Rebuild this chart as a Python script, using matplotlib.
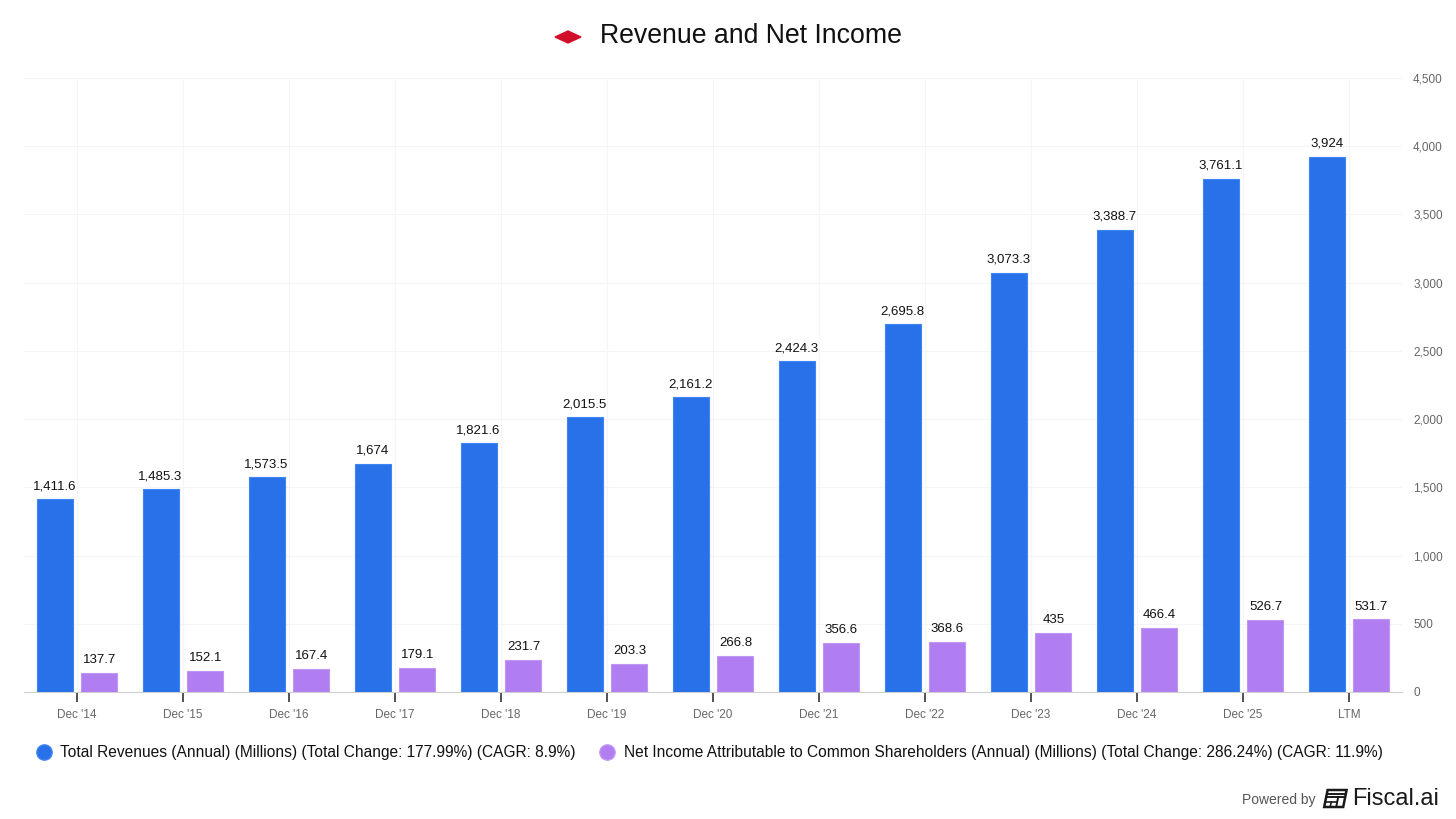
import matplotlib.pyplot as plt
from matplotlib.lines import Line2D
from matplotlib.patches import Polygon

plt.rcParams['font.family'] = ['Liberation Sans', 'DejaVu Sans']

periods = ["Dec '14", "Dec '15", "Dec '16", "Dec '17", "Dec '18", "Dec '19", "Dec '20",
           "Dec '21", "Dec '22", "Dec '23", "Dec '24", "Dec '25", "LTM"]
revenue = [1411.6, 1485.3, 1573.5, 1674, 1821.6, 2015.5, 2161.2, 2424.3, 2695.8,
           3073.3, 3388.7, 3761.1, 3924]
net_income = [137.7, 152.1, 167.4, 179.1, 231.7, 203.3, 266.8, 356.6, 368.6,
              435, 466.4, 526.7, 531.7]
y_ticks = [0, 500, 1000, 1500, 2000, 2500, 3000, 3500, 4000, 4500]

rev_label = "Total Revenues (Annual) (Millions) (Total Change: 177.99%) (CAGR: 8.9%)"
ni_label = ("Net Income Attributable to Common Shareholders (Annual) (Millions) "
            "(Total Change: 286.24%) (CAGR: 11.9%)")

BLUE = '#2971e8'
BLUE_EDGE = '#3d84f5'
PURPLE = '#b07ef0'
PURPLE_EDGE = '#bf95f5'
W, H = 1456, 819


def fmt(v):
	if float(v).is_integer():
		return f'{int(v):,}'
	return f'{v:,.1f}'


def px(xp, yp):
	# pixel coords (from top-left) -> figure fraction
	return (xp / W, 1 - yp / H)


fig = plt.figure(figsize=(W / 100, H / 100), dpi=100)
ax = fig.add_axes([24 / W, 1 - 692 / H, (1402 - 24) / W, (692 - 78) / H])

x = list(range(len(periods)))
bw = 0.34
off = 0.212
xb = [i - off for i in x]
xp = [i + off for i in x]
ax.bar(xb, revenue, width=bw, color=BLUE, edgecolor=BLUE_EDGE, linewidth=0.8, zorder=3)
ax.bar(xp, net_income, width=bw, color=PURPLE, edgecolor=PURPLE_EDGE, linewidth=0.8, zorder=3)

for xi, v in zip(xb, revenue):
	ax.annotate(fmt(v), (xi, v), xytext=(0, 5), textcoords='offset points',
	            ha='center', va='bottom', fontsize=9.5, color='#111111')
for xi, v in zip(xp, net_income):
	ax.annotate(fmt(v), (xi, v), xytext=(0, 5), textcoords='offset points',
	            ha='center', va='bottom', fontsize=9.5, color='#111111')

ax.set_xlim(-0.5, len(periods) - 0.5)
ax.set_ylim(0, 4500)
ax.set_xticks(x)
ax.set_xticklabels(periods)
ax.set_yticks(y_ticks)
ax.set_yticklabels([f'{t:,}' for t in y_ticks])
ax.yaxis.tick_right()
ax.tick_params(axis='y', length=0, pad=8, labelsize=8.5, labelcolor='#666666')
ax.tick_params(axis='x', length=7, width=1.3, color='#444444', pad=5,
               labelsize=8.5, labelcolor='#666666')
for side in ['top', 'left', 'right']:
	ax.spines[side].set_visible(False)
ax.spines['bottom'].set_color('#d0d0d0')
ax.grid(True, color='#f5f5f5', linewidth=0.8, zorder=0)
ax.set_axisbelow(True)

# title with red diamond
fig.add_artist(Polygon([px(555, 37), px(568, 31), px(581, 37), px(568, 43)],
                       closed=True, transform=fig.transFigure, color='#d0102a'))
fig.text(600 / W, 1 - 36 / H, 'Revenue and Net Income', fontsize=19.2,
         color='#111111', ha='left', va='center')

# legend
fig.add_artist(Line2D([44 / W], [1 - 752 / H], marker='o', markersize=11,
                      color=BLUE, markeredgecolor=BLUE_EDGE, transform=fig.transFigure))
fig.text(60 / W, 1 - 752 / H, rev_label, fontsize=11.2, color='#111111', va='center')
fig.add_artist(Line2D([607 / W], [1 - 752 / H], marker='o', markersize=11,
                      color=PURPLE, markeredgecolor=PURPLE_EDGE, transform=fig.transFigure))
fig.text(624 / W, 1 - 752 / H, ni_label, fontsize=11.2, color='#111111', va='center')

# powered by + small slanted logo
fig.text(1316 / W, 1 - 800 / H, 'Powered by', fontsize=10, color='#555555',
         ha='right', va='center')
ink = '#1a1a1a'
sk = 0.2  # slant


def sx(xv, yv):
	# slanted icon coordinates, icon box 1324..1346 x 789..808
	return px(1324 + xv + sk * (808 - yv), yv)


fig.add_artist(Polygon([sx(0, 790), sx(19, 790), sx(19, 807), sx(0, 807)], closed=True,
                       fill=False, edgecolor=ink, linewidth=1.8, transform=fig.transFigure))
for yy in [794, 797]:
	fig.add_artist(Line2D([sx(0, yy)[0], sx(19, yy)[0]], [sx(0, yy)[1], sx(19, yy)[1]],
	                      color=ink, linewidth=1.4, transform=fig.transFigure))
fig.add_artist(Line2D([sx(12, 797)[0], sx(12, 807)[0]], [sx(12, 797)[1], sx(12, 807)[1]],
                      color=ink, linewidth=1.4, transform=fig.transFigure))
fig.add_artist(Line2D([sx(0, 802)[0], sx(12, 802)[0]], [sx(0, 802)[1], sx(12, 802)[1]],
                      color=ink, linewidth=1.2, transform=fig.transFigure))
fig.add_artist(Line2D([sx(6, 802)[0], sx(6, 807)[0]], [sx(6, 802)[1], sx(6, 807)[1]],
                      color=ink, linewidth=1.2, transform=fig.transFigure))
fig.text(1352 / W, 1 - 799 / H, 'Fiscal.ai', fontsize=17, color=ink,
         ha='left', va='center')

plt.savefig('out.png', dpi=100, facecolor='white')
